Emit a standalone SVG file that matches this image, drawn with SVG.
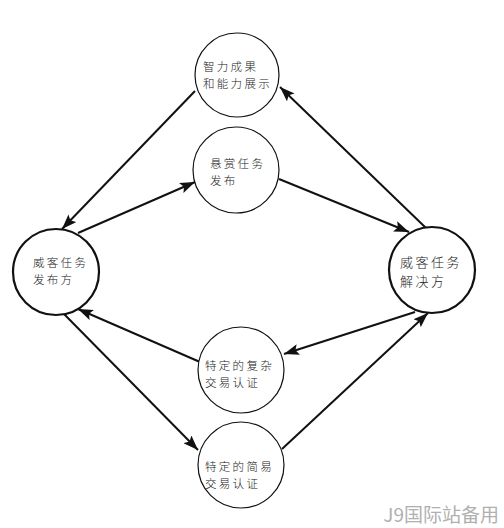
<svg xmlns="http://www.w3.org/2000/svg" width="504" height="528" viewBox="0 0 504 528">
<defs>
<marker id="ah" markerWidth="15" markerHeight="11" refX="15" refY="5.5" orient="auto" markerUnits="userSpaceOnUse">
<path d="M0,0 L15,5.5 L0,11 L3,5.5 z" fill="#111"/>
</marker>
<style>
.n{fill:#fff;stroke:#111;stroke-width:1.2}
.m{fill:#fff;stroke:#111;stroke-width:2.2}
.t{font-family:"Noto Sans CJK SC","Noto Sans CJK JP",sans-serif;font-size:11.5px;font-weight:300;fill:#222;letter-spacing:2.3px}
.tb{font-family:"Noto Sans CJK SC","Noto Sans CJK JP",sans-serif;font-size:13px;font-weight:300;fill:#222;letter-spacing:2.5px}
.c{stroke:#111;stroke-width:2;fill:none;marker-end:url(#ah)}
</style>
</defs>
<rect width="504" height="528" fill="#fff"/>
<g id="connectors">
<line class="c" x1="195" y1="91" x2="62" y2="229"/>
<line class="c" x1="78" y1="233" x2="195" y2="182"/>
<line class="c" x1="279" y1="179" x2="409" y2="232"/>
<line class="c" x1="426" y1="228" x2="280" y2="87"/>
<line class="c" x1="415" y1="312" x2="284" y2="354"/>
<line class="c" x1="200" y1="362" x2="78" y2="309"/>
<line class="c" x1="63" y1="313" x2="198" y2="450"/>
<line class="c" x1="282" y1="449" x2="428" y2="313"/>
</g>
<g id="node-zhili">
<circle class="n" cx="237" cy="75" r="42"/>
<text class="t"><tspan x="203" y="71">智力成果</tspan><tspan x="203" y="88">和能力展示</tspan></text>
</g>
<g id="node-xuanshang">
<circle class="n" cx="236" cy="170" r="43"/>
<text class="t"><tspan x="210" y="168">悬赏任务</tspan><tspan x="210" y="185">发布</tspan></text>
</g>
<g id="node-fabufang">
<circle class="m" cx="56" cy="272" r="43"/>
<text class="t"><tspan x="33" y="267">威客任务</tspan><tspan x="33" y="284">发布方</tspan></text>
</g>
<g id="node-jiejuefang">
<circle class="m" cx="432" cy="270" r="43"/>
<text class="tb"><tspan x="400" y="267">威客任务</tspan><tspan x="400" y="286">解决方</tspan></text>
</g>
<g id="node-fuza">
<circle class="n" cx="241" cy="370" r="43"/>
<text class="t"><tspan x="205" y="370">特定的复杂</tspan><tspan x="205" y="387">交易认证</tspan></text>
</g>
<g id="node-jianyi">
<circle class="n" cx="241" cy="465" r="43"/>
<text class="t"><tspan x="205" y="471">特定的简易</tspan><tspan x="205" y="488">交易认证</tspan></text>
</g>
<text x="499" y="522" text-anchor="end" font-family="'Noto Sans CJK SC',sans-serif" font-size="19" fill="#b0b0b0">J9国际站备用</text>
</svg>
